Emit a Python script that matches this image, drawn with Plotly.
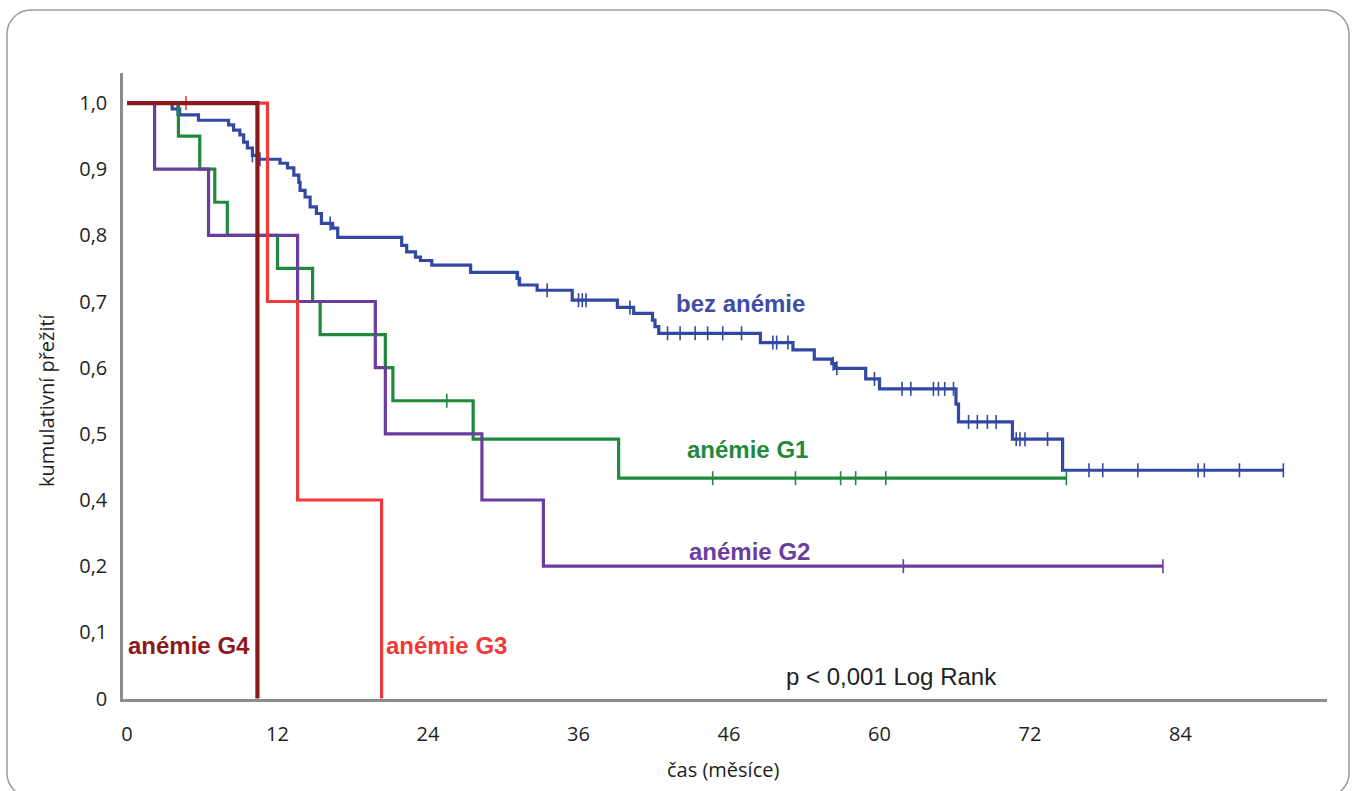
import numpy as np
import plotly.graph_objects as go

# ---------------- data ----------------
X_TICK_VALUES = [0, 12, 24, 36, 48, 60, 72, 84]
X_TICK_LABELS = ["0", "12", "24", "36", "46", "60", "72", "84"]

Y_LABEL_VALUES = [0, 0.1, 0.2, 0.4, 0.5, 0.6, 0.7, 0.8, 0.9, 1.0]
Y_TICK_LABELS = ["0", "0,1", "0,2", "0,4", "0,5", "0,6", "0,7", "0,8", "0,9", "1,0"]

# bez anémie
bez_times = [3.6, 4.2, 5.7, 8.1, 8.5, 9.0, 9.3, 9.6, 10.0, 10.4, 12.2, 12.8, 13.3, 13.7, 13.8,
             14.2, 14.6, 15.1, 15.5, 16.4, 16.8, 21.9, 22.3, 23.0, 23.4, 24.3, 27.4, 31.1, 31.3,
             32.7, 35.5, 39.1, 40.4, 41.9, 42.1, 42.4, 50.5, 53.1, 54.8, 56.2, 56.5, 58.9, 60.0,
             66.1, 66.3, 70.6, 74.6]
bez_surv = [0.991, 0.982, 0.974, 0.967, 0.959, 0.952, 0.941, 0.932, 0.921, 0.915, 0.909, 0.902,
            0.891, 0.880, 0.868, 0.858, 0.843, 0.833, 0.818, 0.811, 0.797, 0.785, 0.775, 0.767,
            0.762, 0.755, 0.744, 0.735, 0.725, 0.717, 0.702, 0.691, 0.682, 0.672, 0.662, 0.652,
            0.638, 0.627, 0.613, 0.606, 0.599, 0.583, 0.568, 0.545, 0.518, 0.492, 0.445]
bez_end = 92.2
bez_censor = [4.0, 10.0, 10.6, 16.2, 31.2, 33.5, 36.0, 36.3, 36.6, 40.1, 43.1, 44.1, 45.3, 46.3,
              47.5, 49.0, 51.5, 51.8, 52.7, 56.3, 56.6, 59.6, 61.8, 62.5, 64.3, 64.7, 65.2, 65.9,
              67.1, 67.8, 68.6, 69.3, 70.9, 71.2, 71.6, 73.4, 76.7, 77.8, 80.6, 85.4, 85.9, 88.7,
              92.2]

# anémie G1
g1_times = [4.1, 5.8, 7.0, 8.0, 12.0, 14.8, 15.4, 20.6, 21.2, 27.6, 39.2]
g1_surv = [0.95, 0.90, 0.85, 0.80, 0.75, 0.70, 0.65, 0.60, 0.55, 0.492, 0.433]
g1_end = 74.9
g1_censor = [25.5, 46.7, 53.3, 56.9, 58.1, 60.5, 74.9]

# anémie G2
g2_times = [2.2, 6.5, 13.6, 19.8, 20.6, 28.3, 33.2]
g2_surv = [0.9, 0.8, 0.7, 0.6, 0.5, 0.4, 0.2]
g2_end = 82.6
g2_censor = [61.9, 82.6]

# anémie G3
g3_times = [11.2, 13.6, 20.3]
g3_surv = [0.7, 0.4, 0.0]
g3_end = 20.3
g3_censor = [4.7]

# anémie G4
g4_times = [10.4]
g4_surv = [0.0]
g4_end = 10.4
g4_censor = []

# ---------------- helpers ----------------
Y_POS = np.arange(len(Y_LABEL_VALUES))


def ypos(v):
    return np.interp(v, Y_LABEL_VALUES, Y_POS)


def step_xy(times, surv, end):
    xs = [0.0] + list(times)
    ys = [1.0] + list(surv)
    if end > xs[-1]:
        xs.append(end)
        ys.append(ys[-1])
    return xs, ypos(np.array(ys))


def surv_at(times, surv, t):
    s = 1.0
    for tt, ss in zip(times, surv):
        if tt <= t:
            s = ss
    return s


groups = [
    ("bez anémie", bez_times, bez_surv, bez_end, bez_censor, "#3348a3", 3.2),
    ("anémie G1", g1_times, g1_surv, g1_end, g1_censor, "#1f8a3c", 3.2),
    ("anémie G2", g2_times, g2_surv, g2_end, g2_censor, "#6a3d9f", 3.2),
    ("anémie G3", g3_times, g3_surv, g3_end, g3_censor, "#f03a3a", 3.2),
    ("anémie G4", g4_times, g4_surv, g4_end, g4_censor, "#8c1a1a", 4.2),
]

fig = go.Figure()
for name, t, s, end, cens, col, w in groups:
    xs, ys = step_xy(t, s, end)
    fig.add_trace(go.Scatter(x=xs, y=ys, mode="lines", line=dict(color=col, width=w, shape="hv"),
                             showlegend=False, hoverinfo="skip"))
    if cens:
        cy = ypos(np.array([surv_at(t, s, c) for c in cens]))
        fig.add_trace(go.Scatter(x=cens, y=cy, mode="markers",
                                 marker=dict(symbol="line-ns", size=10,
                                             line=dict(color=col, width=1.6)),
                                 showlegend=False, hoverinfo="skip"))

# ---------------- layout ----------------
W, H = 1354, 791
L, R, T, B = 123, 27, 73, 92
PW, PH = W - L - R, H - T - B


def px(xp):
    return (xp - L) / PW


def py(yp):
    return (H - B - yp) / PH


def rounded_rect(x0, y0, x1, y1, r):
    k = 0.5523 * r
    pts = []
    pts.append(f"M {px(x0 + r)},{py(y0)}")
    pts.append(f"L {px(x1 - r)},{py(y0)}")
    pts.append(f"C {px(x1 - r + k)},{py(y0)} {px(x1)},{py(y0 + r - k)} {px(x1)},{py(y0 + r)}")
    pts.append(f"L {px(x1)},{py(y1 - r)}")
    pts.append(f"C {px(x1)},{py(y1 - r + k)} {px(x1 - r + k)},{py(y1)} {px(x1 - r)},{py(y1)}")
    pts.append(f"L {px(x0 + r)},{py(y1)}")
    pts.append(f"C {px(x0 + r - k)},{py(y1)} {px(x0)},{py(y1 - r + k)} {px(x0)},{py(y1 - r)}")
    pts.append(f"L {px(x0)},{py(y0 + r)}")
    pts.append(f"C {px(x0)},{py(y0 + r - k)} {px(x0 + r - k)},{py(y0)} {px(x0 + r)},{py(y0)} Z")
    return " ".join(pts)


fig.add_shape(type="path", xref="paper", yref="paper",
              path=rounded_rect(7, 10, 1349, 797, 24),
              line=dict(color="#9a9a9a", width=1.5), layer="below")

x_per_px = 12.0 / 150.5
x0_px = 127
fig.update_xaxes(range=[(L - x0_px) * x_per_px, (W - R - x0_px) * x_per_px],
                 tickvals=X_TICK_VALUES, ticktext=X_TICK_LABELS,
                 showgrid=False, zeroline=False, showline=True, linecolor="#8c8c8c", linewidth=2.5,
                 ticks="", ticklabelstandoff=15,
                 tickfont=dict(family="Open Sans", size=20, color="#1e1e1e"))

u_per_px = 1.0 / 66.1
fig.update_yaxes(range=[-(699 - 698.5) * u_per_px, 9 + (103 - T) * u_per_px],
                 tickvals=list(Y_POS), ticktext=Y_TICK_LABELS,
                 showgrid=False, zeroline=False, showline=True, linecolor="#8c8c8c", linewidth=2.5,
                 ticks="", ticklabelstandoff=9,
                 tickfont=dict(family="Open Sans", size=20, color="#1e1e1e"))

label_font = "Liberation Sans"
annos = [
    ("bez anémie", 740, 303, "#3d4ea3", True, 24),
    ("anémie G1", 747, 449, "#1f8a3c", True, 24),
    ("anémie G2", 749, 551, "#6a3d9f", True, 24),
    ("anémie G4", 189, 645, "#8c1a1a", True, 24),
    ("anémie G3", 446, 645, "#f03a3a", True, 24),
    ("p < 0,001 Log Rank", 891, 676, "#222222", False, 24),
]
for txt, xc, yc, col, bold, sz in annos:
    fig.add_annotation(text=f"<b>{txt}</b>" if bold else txt, xref="paper", yref="paper",
                       x=px(xc), y=py(yc), xanchor="center", yanchor="middle", showarrow=False,
                       font=dict(family=label_font, size=sz, color=col))

fig.add_annotation(text="čas (měsíce)", xref="paper", yref="paper", x=px(723), y=py(769),
                   xanchor="center", yanchor="middle", showarrow=False,
                   font=dict(family="Open Sans", size=20, color="#1e1e1e"))
fig.add_annotation(text="kumulativní přežití", xref="paper", yref="paper", x=px(46), y=py(400),
                   xanchor="center", yanchor="middle", showarrow=False, textangle=-90,
                   font=dict(family="Open Sans", size=20, color="#1e1e1e"))

fig.update_layout(width=W, height=H, margin=dict(l=L, r=R, t=T, b=B, autoexpand=False),
                  paper_bgcolor="white", plot_bgcolor="white", showlegend=False)

fig.write_html("out.html")
